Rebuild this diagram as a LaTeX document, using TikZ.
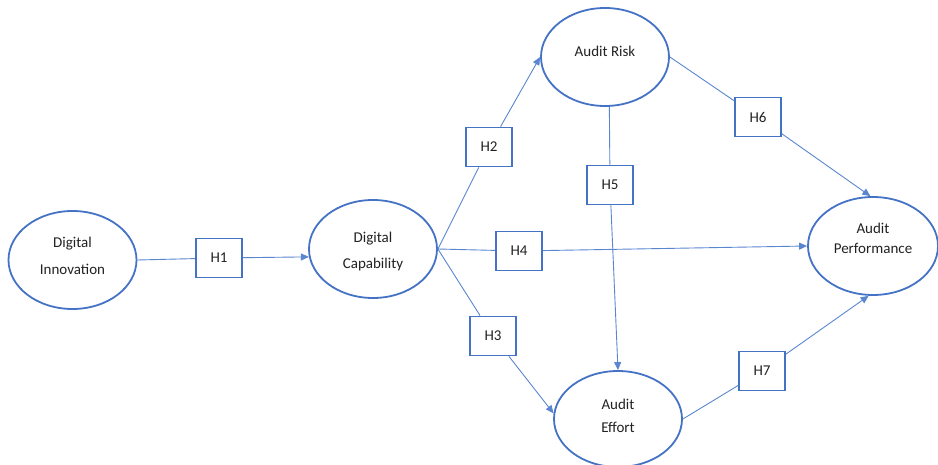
\documentclass[tikz,border=0pt]{standalone}
\usepackage{fontspec}
\setmainfont{Carlito}
\usetikzlibrary{arrows.meta,shapes.geometric}
\definecolor{edgeblue}{HTML}{4472C4}
\definecolor{linkblue}{HTML}{5A86CF}
\definecolor{inktext}{HTML}{222222}
% invisible struts that set the top and bottom of a node's text block
\newcommand\topstrut[1]{\rule{0pt}{#1}}
\newcommand\botstrut[1]{\rule[-#1]{0pt}{#1}}
\tikzset{
  construct/.style={ellipse, draw=edgeblue, line width=1.8pt, fill=white,
    minimum width=128pt, minimum height=98pt, inner sep=0pt, align=center,
    text=inktext, font=\fontsize{15}{23}\selectfont},
  hyp/.style={rectangle, draw=edgeblue, line width=1.8pt, fill=white,
    minimum width=46pt, minimum height=39pt, inner sep=0pt,
    text=inktext, font=\fontsize{15}{18}\selectfont},
  link/.style={draw=linkblue, line width=0.9pt},
  arrowlink/.style={link, -{Triangle[length=8pt,width=7pt]}}
}
\begin{document}
\begin{tikzpicture}[x=1pt,y=-1pt]
\useasboundingbox (0,0) rectangle (938,465);

% constructs
\node[construct, font=\fontsize{15}{26.6}\selectfont] (DI) at (72.5,260)
  {\topstrut{12pt}Digital\\Innovation\botstrut{10pt}};
\node[construct, font=\fontsize{15}{26.7}\selectfont] (DC) at (373,249)
  {\topstrut{17.3pt}Digital\\Capability\botstrut{4pt}};
\node[construct] (AR) at (605,57)
  {\topstrut{11pt}Audit Risk\botstrut{11.6pt}};
\node[construct, minimum height=96pt, font=\fontsize{15}{23.4}\selectfont] (AE) at (618,419)
  {\topstrut{12pt}Audit\\Effort\botstrut{8pt}};
\node[construct, minimum width=130pt, font=\fontsize{15}{20.5}\selectfont] (AP) at (873,246)
  {\topstrut{11.5pt}Audit\\Performance\botstrut{16pt}};

% hypothesis labels
\node[hyp] (H1) at (219,258) {H1};
\node[hyp] (H2) at (489,147) {H2};
\node[hyp] (H3) at (493,336) {H3};
\node[hyp] (H4) at (519,251) {H4};
\node[hyp] (H5) at (610,185) {H5};
\node[hyp] (H6) at (758,117) {H6};
\node[hyp] (H7) at (762,371) {H7};

% paths
\draw[link] (DI.east) -- (H1);
\draw[arrowlink] (H1) -- (DC.187);

\draw[link] (DC.east) -- (H2);
\draw[arrowlink] (H2) -- (AR.west);

\draw[link] (DC.east) -- (H4);
\draw[arrowlink] (H4) -- (AP.west);

\draw[link] (DC.east) -- (H3);
\draw[arrowlink] (H3) -- (AE.175);

\draw[link] (AR.275) -- (H5);
\draw[arrowlink] (H5) -- (AE.north);

\draw[link] (AR.east) -- (H6);
\draw[arrowlink] (H6) -- (AP.93);

\draw[link] (AE.east) -- (H7);
\draw[arrowlink] (H7) -- (AP.265);
\end{tikzpicture}
\end{document}
